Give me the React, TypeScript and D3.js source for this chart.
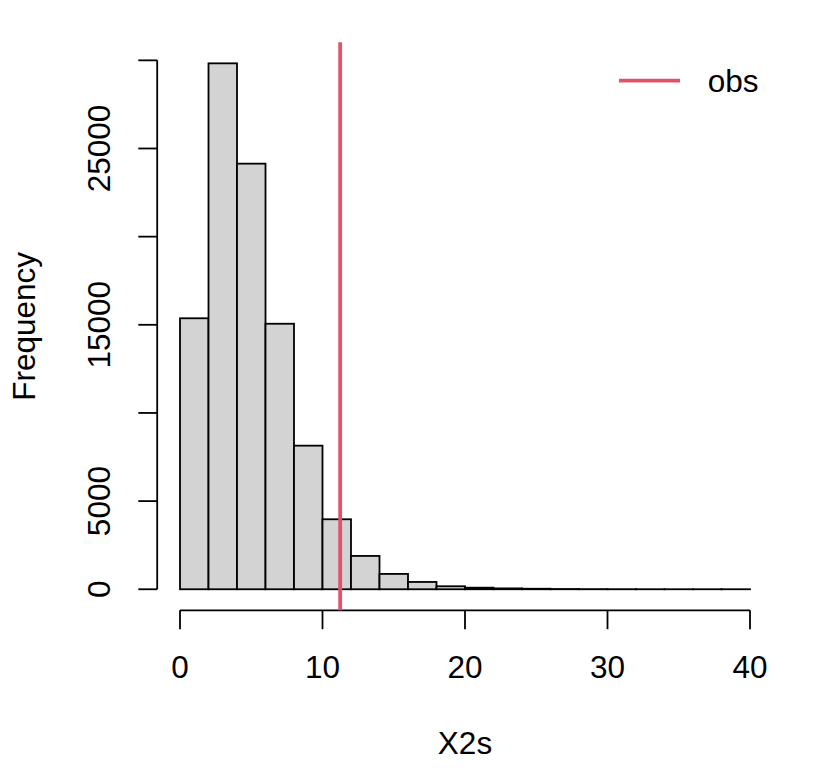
import * as d3 from 'd3'
import { useEffect, useRef } from 'react'

// histogram of X2s, bins of width 2 from 0 to 40
const binEdges = [0, 2, 4, 6, 8, 10, 12, 14, 16, 18, 20, 22, 24, 26, 28, 30, 32, 34, 36, 38, 40]
const counts = [15370, 29830, 24140, 15060, 8145, 3970, 1890, 870, 415, 170, 90, 50, 30, 15, 8, 4, 2, 1, 1, 1]
const obsValue = 11.24

const xTicks = [0, 10, 20, 30, 40]
const yTicks = [0, 5000, 10000, 15000, 20000, 25000, 30000]
// R drops the labels that would overlap
const yTickLabels = ['0', '5000', '', '15000', '', '25000', '']

const xLabel = 'X2s'
const yLabel = 'Frequency'
const legendLabel = 'obs'

const W = 816
const H = 768
const PLOT_LEFT = 157.2
const PLOT_RIGHT = 772.8
const PLOT_TOP = 42.3
const PLOT_BOTTOM = 610.3
const FONT = '"Liberation Sans", Arial, Helvetica, sans-serif'
const FONT_SIZE = 31.5
const LINE_H = FONT_SIZE * 1.2
const TICK_LEN = LINE_H * 0.5
const BAR_FILL = '#D3D3D3'
const OBS_COLOR = '#DF536B'

export default function App() {
  const svgRef = useRef<SVGSVGElement>(null)

  useEffect(() => {
    document.body.style.margin = '0'
    if (!svgRef.current) return
    const svg = d3.select(svgRef.current)
    svg.selectAll('*').remove()

    const lo = binEdges[0]
    const hi = binEdges[binEdges.length - 1]
    const maxCount = d3.max(counts) || 1

    // R pads the data range by 4% on each side
    const xScale = d3.scaleLinear()
      .domain([lo - 0.04 * (hi - lo), hi + 0.04 * (hi - lo)])
      .range([PLOT_LEFT, PLOT_RIGHT])
    const yScale = d3.scaleLinear()
      .domain([-0.04 * maxCount, 1.04 * maxCount])
      .range([PLOT_BOTTOM, PLOT_TOP])

    const bins = counts.map((c, i) => ({ x0: binEdges[i], x1: binEdges[i + 1], count: c }))

    // Bars
    svg.append('g')
      .selectAll('rect')
      .data(bins)
      .enter()
      .append('rect')
      .attr('x', d => xScale(d.x0))
      .attr('y', d => yScale(d.count))
      .attr('width', d => xScale(d.x1) - xScale(d.x0))
      .attr('height', d => yScale(0) - yScale(d.count))
      .attr('fill', BAR_FILL)
      .attr('stroke', '#000')
      .attr('stroke-width', 1.8)

    // X axis
    const xAxisG = svg.append('g')
    xAxisG.append('line')
      .attr('x1', xScale(xTicks[0]))
      .attr('x2', xScale(xTicks[xTicks.length - 1]))
      .attr('y1', PLOT_BOTTOM)
      .attr('y2', PLOT_BOTTOM)
      .attr('stroke', '#000')
      .attr('stroke-width', 1.8)
    xAxisG.selectAll('.xtick')
      .data(xTicks)
      .enter()
      .append('line')
      .attr('x1', d => xScale(d))
      .attr('x2', d => xScale(d))
      .attr('y1', PLOT_BOTTOM)
      .attr('y2', PLOT_BOTTOM + TICK_LEN)
      .attr('stroke', '#000')
      .attr('stroke-width', 1.8)
    xAxisG.selectAll('.xlab')
      .data(xTicks)
      .enter()
      .append('text')
      .attr('x', d => xScale(d))
      .attr('y', PLOT_BOTTOM + LINE_H * 1.8)
      .attr('text-anchor', 'middle')
      .attr('font-family', FONT)
      .attr('font-size', FONT_SIZE)
      .text(d => String(d))

    // Y axis
    const yAxisG = svg.append('g')
    yAxisG.append('line')
      .attr('x1', PLOT_LEFT)
      .attr('x2', PLOT_LEFT)
      .attr('y1', yScale(yTicks[0]))
      .attr('y2', yScale(yTicks[yTicks.length - 1]))
      .attr('stroke', '#000')
      .attr('stroke-width', 1.8)
    yAxisG.selectAll('.ytick')
      .data(yTicks)
      .enter()
      .append('line')
      .attr('x1', PLOT_LEFT)
      .attr('x2', PLOT_LEFT - TICK_LEN)
      .attr('y1', d => yScale(d))
      .attr('y2', d => yScale(d))
      .attr('stroke', '#000')
      .attr('stroke-width', 1.8)
    const yLabX = PLOT_LEFT - LINE_H * 1.24
    yAxisG.selectAll('.ylab')
      .data(yTicks)
      .enter()
      .append('text')
      .attr('transform', d => `translate(${yLabX}, ${yScale(d)}) rotate(-90)`)
      .attr('text-anchor', 'middle')
      .attr('font-family', FONT)
      .attr('font-size', FONT_SIZE)
      .text((_, i) => yTickLabels[i])

    // Axis titles
    svg.append('text')
      .attr('x', (PLOT_LEFT + PLOT_RIGHT) / 2)
      .attr('y', PLOT_BOTTOM + LINE_H * 3.8)
      .attr('text-anchor', 'middle')
      .attr('font-family', FONT)
      .attr('font-size', FONT_SIZE)
      .text(xLabel)
    svg.append('text')
      .attr('transform', `translate(${PLOT_LEFT - LINE_H * 3.24}, ${(PLOT_TOP + PLOT_BOTTOM) / 2}) rotate(-90)`)
      .attr('text-anchor', 'middle')
      .attr('font-family', FONT)
      .attr('font-size', FONT_SIZE)
      .text(yLabel)

    // Observed value line
    svg.append('line')
      .attr('x1', xScale(obsValue))
      .attr('x2', xScale(obsValue))
      .attr('y1', PLOT_TOP)
      .attr('y2', PLOT_BOTTOM)
      .attr('stroke', OBS_COLOR)
      .attr('stroke-width', 3.8)

    // Legend (topright, no box)
    const legendY = 80.7
    svg.append('line')
      .attr('x1', 619)
      .attr('x2', 680)
      .attr('y1', legendY)
      .attr('y2', legendY)
      .attr('stroke', OBS_COLOR)
      .attr('stroke-width', 3.8)
    svg.append('text')
      .attr('x', 707.7)
      .attr('y', 91.7)
      .attr('font-family', FONT)
      .attr('font-size', FONT_SIZE)
      .text(legendLabel)
  }, [])

  return <svg ref={svgRef} width={W} height={H} style={{ display: 'block', background: '#fff' }} />
}
